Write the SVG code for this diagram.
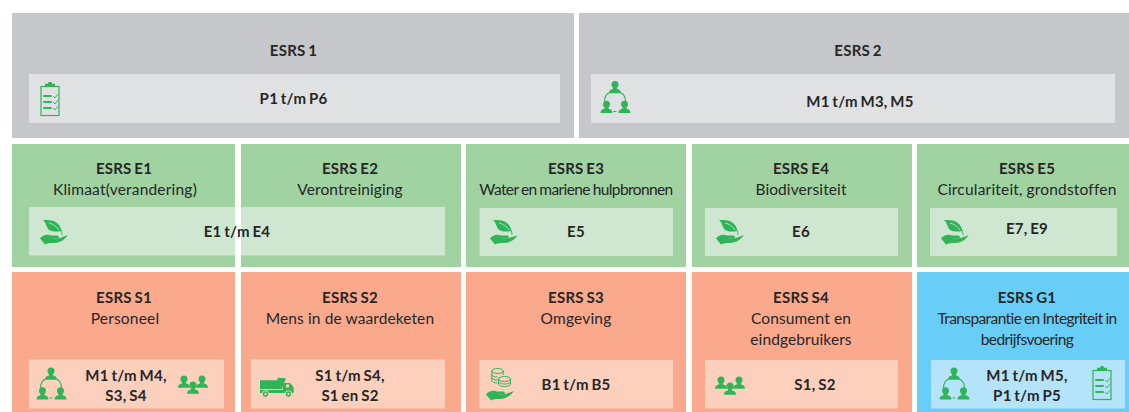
<svg xmlns="http://www.w3.org/2000/svg" xmlns:xlink="http://www.w3.org/1999/xlink" width="1129" height="412" viewBox="0 0 1129 412">
<style>
text{font-family:"Lato","Open Sans","Liberation Sans",sans-serif;fill:#262626;text-anchor:middle}
.b{font-weight:700;font-size:15px;letter-spacing:.25px;word-spacing:-1.2px}
.s{font-size:15.500px;letter-spacing:.1px}
.t{font-size:15.500px;letter-spacing:-.6px;word-spacing:-.6px}
.u{font-size:15.500px;letter-spacing:.2px;word-spacing:-.6px}
.grey{fill:#c6c7cb}.grn{fill:#a0d3a1}.org{fill:#faa98d}.blu{fill:#68cef7}
.igrey{fill:#e0e1e3}.igrn{fill:#cfe6d0}.iorg{fill:#fcd0bd}.iblu{fill:#b5e3f9}
.ic{fill:#2fb457}.il{fill:none;stroke:#2fb457}
</style>
<defs>
<g id="clip"><rect class="il" x="1" y="5.500" width="18" height="29" stroke-width="1.200"/><path class="ic" d="M5 5.500V2.800H8A2 2 0 0 1 12 2.800H15V5.500Z"/><path class="il" stroke-width="2" d="M3.300 15H11.700M3.300 21H11.700M3.300 27H11.700"/><path class="il" stroke-width=".9" d="M13 15l2 2 3-4M13 21l2 2 3-4M13 27l2 2 3-4"/></g>
<g id="person"><circle class="ic" cx="0" cy="-6" r="3.500"/><path class="ic" d="M-2-3H2V-1.500C4.500-1 6 -.2 6 2.800H-6C-6-.2-4.500-1-2-1.500Z"/></g>
<g id="circle"><use xlink:href="#person" x="15" y="9.500"/><use xlink:href="#person" x="6.500" y="29.300"/><use xlink:href="#person" x="24.500" y="29.300"/><path class="il" stroke-width="1.100" d="M4.500 20.500C4.500 16 6.500 13 9.500 11.500M25.500 20.500C25.500 16 23.500 13 20.500 11.500M13.500 30.500H16.500"/></g>
<g id="three"><use xlink:href="#person" x="6" y="6"/><use xlink:href="#person" x="24" y="6"/><use xlink:href="#person" x="15" y="12"/></g>
<path id="hand" class="ic" d="M0 18.500C3 15 7 14 11 15.500H17C19.500 15.500 19.500 18.500 17 18.500H12C15 19.500 19 18.500 27.700 15C25 20 19 23 14 23C10 23 7 23 5 24.500Z"/>
<g id="leaf"><path class="ic" d="M3 0C9 0 15 0 18 4C20 6 21 8 21 11C17 12 11 12 8 9C6 5 6 3 3 0Z"/><path fill="none" stroke="#cfe6d0" stroke-width=".8" d="M9 3C13 4 16 6 19 10"/><path class="il" stroke-width=".9" d="M19 7C21 9 22 12 22 15"/><use xlink:href="#hand"/></g>
<g id="truck"><path class="ic" d="M0 3.300H17L18 .7 26 1.300 22 12H0Z"/><path class="ic" d="M23 6H30L33.500 10V15H23Z"/><rect class="ic" x="0" y="13" width="33.500" height="3"/><rect x="26" y="7.500" width="3" height="3" fill="#fcd0bd"/><circle class="ic" cx="5.500" cy="17" r="3.300" stroke="#fcd0bd"/><circle class="ic" cx="28.500" cy="17" r="3.300" stroke="#fcd0bd"/><circle cx="5.500" cy="17" r="1.200" fill="#fcd0bd"/><circle cx="28.500" cy="17" r="1.200" fill="#fcd0bd"/></g>
<g id="coins"><g class="il" stroke-width="1"><ellipse cx="11.500" cy="3" rx="5.700" ry="2.500"/><path d="M5.800 3V12.500C5.800 14 8.500 15 11.500 15M17.200 3V7M5.800 6.500C5.800 8 8.500 9 11.500 9M5.800 9.500C5.800 11 8.500 12 11.500 12"/><ellipse cx="18.500" cy="11" rx="6" ry="2.500"/><path d="M12.500 11V16C12.500 17.500 15.500 18.500 18.500 18.500S24.500 17.500 24.500 16V11M12.500 13.500C12.500 15 15.500 16 18.500 16S24.500 15 24.500 13.500"/></g><use xlink:href="#hand" y="8"/></g>
</defs>

<g id="esrs-1"><rect class="grey" x="12" y="13" width="562" height="125"/><rect class="igrey" x="29" y="74" width="531" height="49"/><use xlink:href="#clip" x="40" y="81"/><text class="b" x="293.500" y="56">ESRS 1</text><text class="b" x="293.500" y="104">P1 t/m P6</text></g>
<g id="esrs-2"><rect class="grey" x="579" y="13" width="550" height="125"/><rect class="igrey" x="591" y="74" width="524" height="49"/><use xlink:href="#circle" x="600" y="81"/><text class="b" x="858" y="56">ESRS 2</text><text class="b" x="860" y="107">M1 t/m M3, M5</text></g>

<g id="esrs-e1"><rect class="grn" x="12" y="144" width="223" height="123"/><text class="b" x="124" y="174">ESRS E1</text><text class="u" x="125" y="195">Klimaat(verandering)</text></g>
<g id="esrs-e2"><rect class="grn" x="241" y="144" width="220" height="123"/><text class="b" x="350" y="174">ESRS E2</text><text class="s" x="350" y="195">Verontreiniging</text></g>
<g id="e1-e4"><rect class="igrn" x="29" y="207" width="206" height="48.500"/><rect class="igrn" x="241" y="207" width="204" height="48.500"/><use xlink:href="#leaf" x="40" y="220"/><text class="b" x="237" y="237">E1 t/m E4</text></g>
<g id="esrs-e3"><rect class="grn" x="466" y="144" width="220" height="123"/><rect class="igrn" x="479.500" y="208" width="193.500" height="48"/><use xlink:href="#leaf" x="490" y="220"/><text class="b" x="576" y="174">ESRS E3</text><text class="t" x="576" y="195">Water en mariene hulpbronnen</text><text class="b" x="576" y="237">E5</text></g>
<g id="esrs-e4"><rect class="grn" x="692" y="144" width="220" height="123"/><rect class="igrn" x="705" y="208" width="193" height="48"/><use xlink:href="#leaf" x="716" y="220"/><text class="b" x="801" y="174">ESRS E4</text><text class="s" x="801" y="195">Biodiversiteit</text><text class="b" x="801" y="237">E6</text></g>
<g id="esrs-e5"><rect class="grn" x="917" y="144" width="212" height="123"/><rect class="igrn" x="930" y="208" width="187" height="48"/><use xlink:href="#leaf" x="941" y="220"/><text class="b" x="1027" y="174">ESRS E5</text><text class="u" x="1027" y="195">Circulariteit, grondstoffen</text><text class="b" x="1027" y="234">E7, E9</text></g>

<g id="esrs-s1"><rect class="org" x="12" y="272" width="223" height="140"/><rect class="iorg" x="29" y="359.500" width="195" height="49"/><use xlink:href="#circle" x="36" y="367.500"/><use xlink:href="#three" x="178" y="379"/><text class="b" x="126" y="381">M1 t/m M4,</text><text class="b" x="126" y="401">S3, S4</text><text class="b" x="124" y="303">ESRS S1</text><text class="u" x="125" y="324">Personeel</text></g>
<g id="esrs-s2"><rect class="org" x="241" y="272" width="220" height="140"/><rect class="iorg" x="251" y="359.500" width="194" height="49"/><use xlink:href="#truck" x="260" y="377"/><text class="b" x="350" y="381">S1 t/m S4,</text><text class="b" x="350" y="401">S1 en S2</text><text class="b" x="350" y="303">ESRS S2</text><text class="s" x="350" y="324">Mens in de waardeketen</text></g>
<g id="esrs-s3"><rect class="org" x="466" y="272" width="220" height="140"/><rect class="iorg" x="479.500" y="360" width="193.500" height="48.500"/><use xlink:href="#coins" x="486" y="368"/><text class="b" x="576" y="303">ESRS S3</text><text class="u" x="576" y="324">Omgeving</text><text class="b" x="576" y="390">B1 t/m B5</text></g>
<g id="esrs-s4"><rect class="org" x="692" y="272" width="220" height="140"/><rect class="iorg" x="705" y="360" width="193" height="48.500"/><use xlink:href="#three" x="715" y="380"/><text class="b" x="801" y="303">ESRS S4</text><text class="s" x="801" y="324">Consument en</text><text class="s" x="801" y="345">eindgebruikers</text><text class="b" x="815" y="390">S1, S2</text></g>
<g id="esrs-g1"><rect class="blu" x="917" y="272" width="212" height="140"/><rect class="iblu" x="931" y="360" width="194" height="48.500"/><use xlink:href="#circle" x="939" y="367.500"/><use xlink:href="#clip" x="1092" y="365"/><text class="b" x="1027" y="303">ESRS G1</text><text class="t" x="1027" y="324">Transparantie en Integriteit in</text><text class="t" x="1027" y="345">bedrijfsvoering</text><text class="b" x="1027" y="381">M1 t/m M5,</text><text class="b" x="1027" y="401">P1 t/m P5</text></g>
</svg>
